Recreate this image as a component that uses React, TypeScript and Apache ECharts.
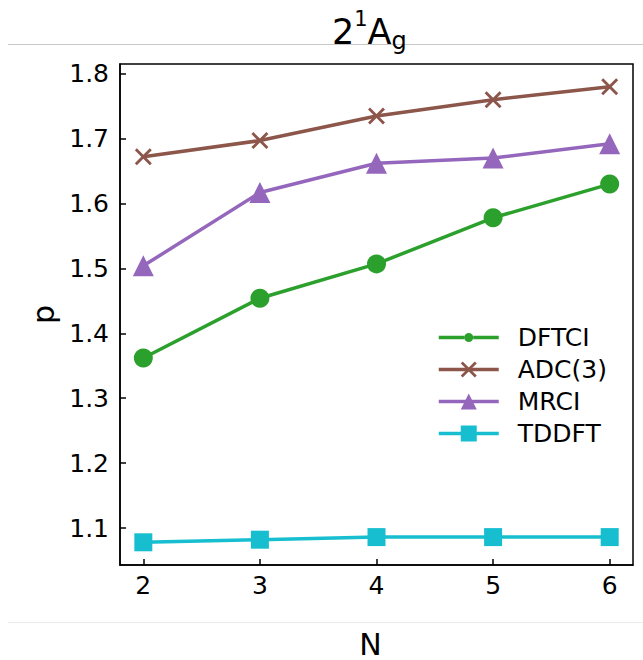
import React, { useEffect, useRef } from "react";
import * as echarts from "echarts";

const nValues = [2, 3, 4, 5, 6];
const dftci = [1.362, 1.454, 1.507, 1.578, 1.630];
const adc3 = [1.672, 1.697, 1.735, 1.760, 1.780];
const mrci = [1.504, 1.617, 1.662, 1.670, 1.692];
const tddft = [1.078, 1.082, 1.086, 1.086, 1.086];
const seriesNames = ["DFTCI", "ADC(3)", "MRCI", "TDDFT"];
const colors = ["#2ca02c", "#8c564b", "#9467bd", "#17becf"];
const titleParts = ["2", "1", "A", "g"];

const FONT = "DejaVu Sans";
const crossPath =
  "path://M0,1.2 L1.2,0 L5,3.8 L8.8,0 L10,1.2 L6.2,5 L10,8.8 L8.8,10 L5,6.2 L1.2,10 L0,8.8 L3.8,5 Z";
const smallDotIcon =
  "path://M0,8.3 L25.5,8.3 L25.5,11.7 L0,11.7 Z M34.5,8.3 L60,8.3 L60,11.7 L34.5,11.7 Z M34.5,10 A4.5,4.5 0 1 1 25.5,10 A4.5,4.5 0 1 1 34.5,10 Z";

export default function App() {
  const ref = useRef<HTMLDivElement>(null);
  useEffect(() => {
    if (!ref.current) return;
    document.body.style.margin = "0";
    const chart = echarts.init(ref.current, null, { renderer: "svg" });
    const pts = (arr: number[]) => nValues.map((n, i) => [n, arr[i]]);
    const mk = (name: string, data: number[], color: string, symbol: string, size: number) => ({
      name,
      type: "line",
      data: pts(data),
      symbol,
      symbolSize: size,
      showAllSymbol: true,
      lineStyle: { color, width: 3.5 },
      itemStyle: { color, borderWidth: 0 },
      z: 3,
    });
    const tText = (text: string, x: number, y: number, size: number) => ({
      type: "text",
      x,
      y,
      style: {
        text,
        fontFamily: FONT,
        fontSize: size,
        fill: "#000",
        textAlign: "left",
        textVerticalAlign: "middle",
        verticalAlign: "middle",
      },
    });
    chart.setOption({
      animation: false,
      grid: {
        left: 120,
        right: 10,
        top: 64,
        bottom: 95,
        outerBoundsMode: "none",
        containLabel: false,
        show: true,
        borderColor: "#000",
        borderWidth: 1.5,
        backgroundColor: "transparent",
      },
      legend: {
        left: 432,
        top: 320,
        orient: "vertical",
        itemWidth: 60,
        itemHeight: 20,
        itemGap: 7,
        lineStyle: { width: 3.5 },
        textStyle: { fontFamily: FONT, fontSize: 25, color: "#000", padding: [0, 0, 0, 14] },
        data: [
          { name: "DFTCI", icon: smallDotIcon },
          { name: "ADC(3)" },
          { name: "MRCI" },
          { name: "TDDFT" },
        ],
      },
      xAxis: {
        type: "value",
        min: 1.8,
        max: 6.2,
        splitNumber: 5,
        name: "N",
        nameLocation: "middle",
        nameGap: 64,
        nameTextStyle: { fontFamily: FONT, fontSize: 30, color: "#000", padding: [0, 12, 0, 0] },
        axisLine: { lineStyle: { color: "#000", width: 1.5 } },
        axisTick: { inside: true, length: 6, lineStyle: { color: "#000", width: 1.5 } },
        axisLabel: {
          fontFamily: FONT,
          fontSize: 25,
          color: "#000",
          margin: 8,
          showMinLabel: false,
          showMaxLabel: false,
          formatter: (v: number) => (Math.abs(v - Math.round(v)) < 1e-6 ? String(Math.round(v)) : ""),
        },
        splitLine: { show: false },
      },
      yAxis: {
        type: "value",
        min: 1.043,
        max: 1.815,
        splitNumber: 8,
        name: "p",
        nameLocation: "middle",
        nameGap: 61,
        nameTextStyle: { fontFamily: FONT, fontSize: 30, color: "#000" },
        axisLine: { show: true, lineStyle: { color: "#000", width: 1.5 } },
        axisTick: { show: true, inside: true, length: 6, lineStyle: { color: "#000", width: 1.5 } },
        axisLabel: {
          fontFamily: FONT,
          fontSize: 25,
          color: "#000",
          margin: 11,
          showMinLabel: false,
          showMaxLabel: false,
          formatter: (v: number) =>
            Math.abs(v * 10 - Math.round(v * 10)) < 1e-6 ? v.toFixed(1) : "",
        },
        splitLine: { show: false },
      },
      graphic: [
        { type: "line", shape: { x1: 8, y1: 44.5, x2: 643, y2: 44.5 }, style: { stroke: "#c8c8c8", lineWidth: 1 }, z: -1 },
        { type: "line", shape: { x1: 8, y1: 622.5, x2: 643, y2: 622.5 }, style: { stroke: "#ececec", lineWidth: 1 }, z: -1 },
        tText(titleParts[0], 332, 31.5, 35),
        tText(titleParts[1], 354.3, 19, 21),
        tText(titleParts[2], 367.6, 31.5, 35),
        tText(titleParts[3], 391.5, 41, 24),
      ],
      series: [
        mk(seriesNames[0], dftci, colors[0], "circle", 19),
        mk(seriesNames[1], adc3, colors[1], crossPath, 17),
        mk(seriesNames[2], mrci, colors[2], "triangle", 21),
        mk(seriesNames[3], tddft, colors[3], "rect", 18),
      ],
    });
    return () => chart.dispose();
  }, []);
  return <div ref={ref} style={{ width: 643, height: 660 }} />;
}
